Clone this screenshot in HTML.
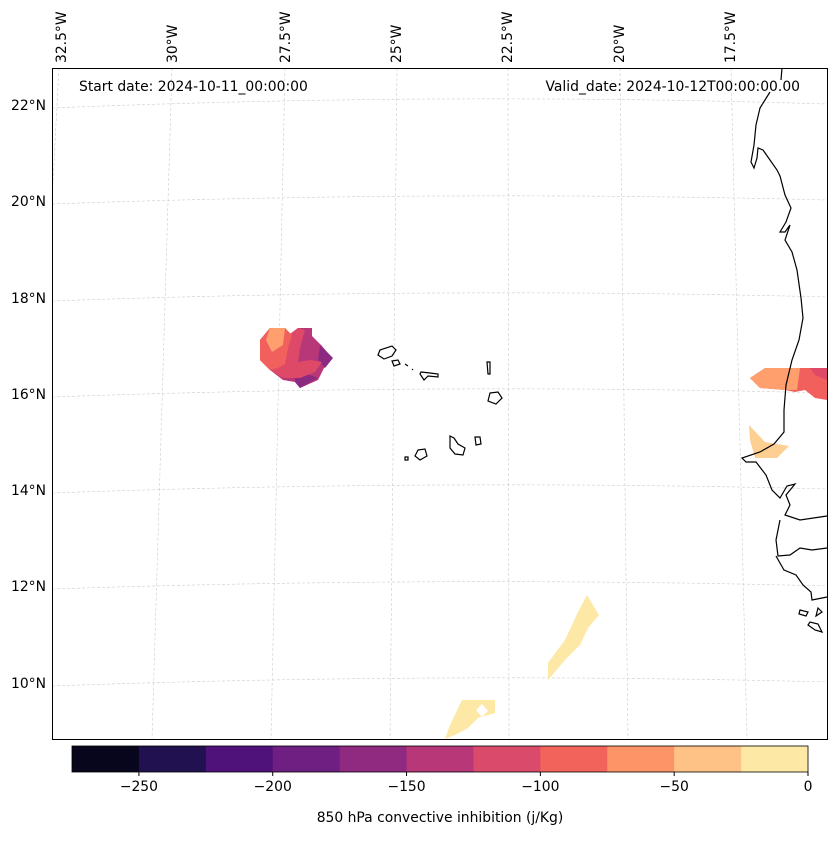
<!DOCTYPE html>
<html><head><meta charset="utf-8"><style>
body{margin:0;background:#fff;font-family:"Liberation Sans","DejaVu Sans",sans-serif;}
svg text{font-family:"DejaVu Sans","Liberation Sans",sans-serif;}
</style></head><body>
<svg width="837" height="836" viewBox="0 0 837 836">
<g stroke="#ccc" stroke-width="0.6" stroke-dasharray="3,2" fill="none">
<path d="M52,108 Q440,92 827,104"/><path d="M52,204 Q440,190 827,200"/><path d="M52,301 Q440,287 827,297"/>
<path d="M52,397 Q440,383 827,393"/><path d="M52,493 Q440,479 827,489"/><path d="M52,589 Q440,576 827,586"/><path d="M52,686 Q440,672 827,682"/>
<path d="M59,68 L52,200"/><path d="M172,68 L152,739"/><path d="M285,68 L271,739"/><path d="M397,68 L390,739"/>
<path d="M508,68 L509,739"/><path d="M620,68 L628,739"/><path d="M731,68 L747,739"/>
</g>
<g>
<polygon points="270,328 285,328 290,334 298,328 312,328 312,336 322,346 332,358 324,368 318,380 300,388 295,382 283,380 270,370 260,360 260,340" fill="#b73779"/>
<polygon points="295,370 318,378 300,388 295,382" fill="#8c2981"/>
<polygon points="320,345 333,358 325,368 318,360" fill="#8c2981"/>
<polygon points="270,328 285,328 290,334 298,328 305,330 300,348 298,362 310,360 322,362 315,372 300,378 283,378 270,370 260,360 260,340" fill="#de4968"/>
<polygon points="270,328 285,328 292,335 288,348 285,364 278,368 270,370 260,360 260,340" fill="#f1605d"/>
<polygon points="270,328 285,328 283,345 272,352 266,340" fill="#fe9f6d"/>
<polygon points="765,368 827,368 827,400 815,398 805,390 795,392 785,390 760,388 750,378" fill="#f1605d"/>
<polygon points="810,368 827,368 827,380 815,375" fill="#de4968"/>
<polygon points="765,368 800,368 797,390 785,390 760,388 750,378" fill="#fe9f6d"/>
<polygon points="749,425 765,442 789,446 777,458 755,458 750,440" fill="#fecf92"/>
<polygon points="587,595 599,615 588,628 580,645 565,660 548,680 548,663 565,640 578,612" fill="#fde8a5"/>
<polygon points="462,700 495,700 495,713 478,718 468,728 455,735 445,739 450,725" fill="#fde8a5"/>
<polygon points="476,710 482,704 488,711 482,717" fill="#fff"/>
</g>
<g fill="none" stroke="#000" stroke-width="1.2">
<path d="M782,68 L781,80 M770,92 L760,108 L756,125 L754,145 L751,162 L754,168 L757,158 L758,148 L763,150 L770,160 L777,170 L780,176 L785,195 L791,208 L786,222 L780,232 L785,232 L790,225 L785,240 L792,252 L797,270 L801,298 L803,318 L799,340 L792,360 L786,385 L784,410 L784,432 L774,444 L760,452 L742,458 L746,462 L756,462 L766,475 L772,490 L780,498 L787,486 L795,484 L786,495 L790,505 L785,515 L800,520 L827,516 M780,520 L776,540 L778,556 L790,555 L800,548 L812,550 L827,548 M776,556 L784,570 L796,575 L803,585 L811,592 L812,600 L827,597 M800,610 L808,612 L806,616 L799,614 Z M818,608 L822,612 L816,616 Z M808,625 L815,630 L822,632 L818,624 L810,622 Z"/>
<path d="M380,350 L392,346 L396,350 L392,356 L384,359 L378,355 Z"/>
<path d="M392,361 L398,360 L400,364 L394,366 Z"/>
<path d="M405,364 L408,366 M412,369 L413,370"/>
<path d="M421,372 L430,373 L438,374 L438,377 L428,376 L424,380 L420,374 Z"/>
<path d="M487,362 L490,362 L490,374 L488,374 Z"/>
<path d="M490,393 L498,392 L502,398 L496,404 L488,401 Z"/>
<path d="M450,436 L454,438 L458,444 L465,448 L463,455 L455,454 L450,448 Z"/>
<path d="M475,437 L480,437 L481,444 L476,445 Z"/>
<path d="M418,450 L425,449 L427,456 L420,460 L415,456 Z"/>
<path d="M405,457 L408,457 L408,460 L405,460 Z"/>
</g>
<rect x="52.5" y="68.5" width="775" height="671" fill="none" stroke="#000" stroke-width="1"/>
<g font-size="13.9" fill="#000">
<text x="79" y="91">Start date: 2024-10-11_00:00:00</text>
<text x="800" y="91" text-anchor="end">Valid_date: 2024-10-12T00:00:00.00</text>
</g>
<g font-size="13.9" text-anchor="end" fill="#000">
<text x="46" y="110">22°N</text><text x="46" y="206">20°N</text><text x="46" y="303">18°N</text><text x="46" y="399">16°N</text>
<text x="46" y="495">14°N</text><text x="46" y="591">12°N</text><text x="46" y="688">10°N</text>
</g>
<g font-size="13.9" fill="#000">
<text transform="translate(66,63) rotate(-90)">32.5°W</text><text transform="translate(177,63) rotate(-90)">30°W</text>
<text transform="translate(290,63) rotate(-90)">27.5°W</text><text transform="translate(401,63) rotate(-90)">25°W</text>
<text transform="translate(512,63) rotate(-90)">22.5°W</text><text transform="translate(624,63) rotate(-90)">20°W</text>
<text transform="translate(735,63) rotate(-90)">17.5°W</text>
</g>
<g id="cbar"></g>
<text x="440" y="822" text-anchor="middle" font-size="13.9">850 hPa convective inhibition (j/Kg)</text>
</svg>
<script>
const levels=[-275,-250,-225,-200,-175,-150,-125,-100,-75,-50,-25,0];
const colors=["#07061c","#221150","#4f127b","#6f1f81","#902a81","#b73779","#da4b6b","#f2635c","#fd9468","#fec287","#fde8a5"];
const ticks=[-250,-200,-150,-100,-50,0];
const ns="http://www.w3.org/2000/svg";
const g=document.getElementById('cbar');
const x0=72,x1=808,y0=746,h=26;
const sx=v=>x0+(v-levels[0])/(levels[levels.length-1]-levels[0])*(x1-x0);
for(let i=0;i<colors.length;i++){
const r=document.createElementNS(ns,'rect');
r.setAttribute('x',sx(levels[i]));r.setAttribute('y',y0);
r.setAttribute('width',sx(levels[i+1])-sx(levels[i])+0.5);r.setAttribute('height',h);
r.setAttribute('fill',colors[i]);


g.appendChild(r);}
const fr=document.createElementNS(ns,'rect');
fr.setAttribute('x',x0);fr.setAttribute('y',y0);fr.setAttribute('width',x1-x0);fr.setAttribute('height',h);
fr.setAttribute('fill','none');fr.setAttribute('stroke','#000');fr.setAttribute('stroke-width','0.8');


g.appendChild(fr);
ticks.forEach(t=>{
const l=document.createElementNS(ns,'line');
l.setAttribute('x1',sx(t));l.setAttribute('x2',sx(t));l.setAttribute('y1',y0+h);l.setAttribute('y2',y0+h+4);l.setAttribute('stroke','#000');


g.appendChild(l);
const tx=document.createElementNS(ns,'text');
tx.setAttribute('x',sx(t));tx.setAttribute('y',y0+h+19);tx.setAttribute('text-anchor','middle');tx.setAttribute('font-size','13.9');
tx.textContent=t<0?'\u2212'+Math.abs(t):String(t);


g.appendChild(tx);});
</script>
</body></html>
